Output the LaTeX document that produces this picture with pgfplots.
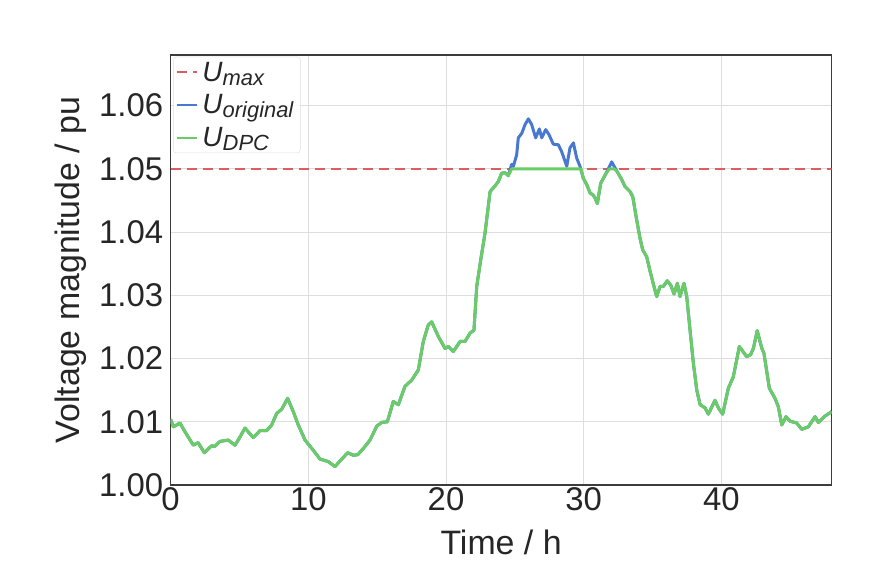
\documentclass[border=0pt]{standalone}
\usepackage{pgfplots}
\pgfplotsset{compat=1.18}
\usepackage{fontspec}
\setmainfont{Liberation Sans}

\definecolor{cRed}{HTML}{D65F5F}
\definecolor{cBlue}{HTML}{4878CF}
\definecolor{cGreen}{HTML}{6ACC65}
\definecolor{cText}{RGB}{38,38,38}
\definecolor{cGrid}{RGB}{222,222,222}

% legend symbol: italic U with a large, lowered italic subscript
\newcommand{\Usub}[1]{\textit{U}\raisebox{-4bp}{\fontsize{22}{24}\selectfont\itshape #1}}

\begin{document}
\begin{tikzpicture}
\useasboundingbox (-170.6bp,-93bp) rectangle (709.4bp,485bp);
\begin{axis}[
  scale only axis,
  width=661bp, height=430bp,
  xmin=0, xmax=48,
  ymin=1.00, ymax=1.068,
  xtick={0,10,20,30,40},
  ytick={1.00,1.01,1.02,1.03,1.04,1.05,1.06},
  major tick length=0pt,
  grid=major,
  major grid style={cGrid, line width=1bp},
  axis line style={cText!90, line width=1.4bp},
  tick label style={font=\fontsize{33}{38}\selectfont, text=cText},
  label style={font=\fontsize{34}{40}\selectfont, text=cText},
  /pgf/number format/assume math mode=true,
  yticklabel style={/pgf/number format/fixed, /pgf/number format/fixed zerofill,
    /pgf/number format/precision=2, xshift=-4bp},
  xticklabel style={yshift=1bp},
  xlabel={Time / h},
  ylabel={Voltage magnitude / pu},
  xlabel style={yshift=-12bp},
  ylabel style={yshift=6bp},
  legend style={at={(0.004,0.996)}, anchor=north west,
    draw=cGrid, rounded corners=3bp, fill=white, fill opacity=0.8, text opacity=1,
    font=\fontsize{28}{32}\selectfont, text=cText,
    inner sep=3bp, row sep=8bp,
    nodes={inner xsep=4bp}},
  legend cell align=left,
  legend image code/.code={\draw[#1, line width=2bp] (0bp,0bp) -- (20bp,0bp);},
]
\addplot[cRed, line width=2.6bp, dash pattern=on 10bp off 6bp] coordinates {(0,1.05) (48,1.05)};
\addlegendentry{\Usub{max}}

\addplot[cBlue, line width=3bp, line join=round] coordinates {
(0,1.0104)(0.2,1.0092)(0.68,1.0098)(1.05,1.0084)(1.65,1.0063)(2.0,1.0067)
(2.45,1.0051)(2.98,1.0062)(3.2,1.0061)(3.59,1.0069)(4.19,1.0071)(4.68,1.0063)
(5.04,1.0076)(5.4,1.0090)(6.0,1.0075)(6.49,1.0086)(6.98,1.0086)(7.34,1.0095)
(7.7,1.0113)(8.07,1.0120)(8.5,1.0137)(8.91,1.0116)(9.27,1.0095)(9.76,1.0071)
(10.25,1.0058)(10.85,1.0041)(11.45,1.0037)(11.94,1.0029)(12.3,1.0038)(12.86,1.0051)
(13.27,1.0047)(13.6,1.0048)(14.12,1.0061)(14.48,1.0071)(14.97,1.0093)(15.33,1.0099)
(15.74,1.0100)(16.17,1.0132)(16.54,1.0127)(17.02,1.0156)(17.51,1.0166)(17.99,1.0182)
(18.35,1.0227)(18.71,1.0253)(18.96,1.0258)(19.44,1.0235)(19.93,1.0216)(20.17,1.0219)
(20.53,1.0211)(21.02,1.0227)(21.38,1.0227)(21.74,1.0240)(22.03,1.0245)(22.23,1.0314)
(22.52,1.0356)(22.83,1.0398)(23.2,1.0464)(23.56,1.0473)(23.8,1.0480)(24.04,1.0493)
(24.28,1.0494)(24.52,1.0489)(24.77,1.0507)(24.89,1.0504)(25.13,1.0522)(25.25,1.0549)
(25.5,1.0556)(25.74,1.0570)(25.98,1.0579)(26.22,1.0570)(26.51,1.0549)(26.78,1.0563)
(26.95,1.0549)(27.24,1.0562)(27.48,1.0554)(27.79,1.0539)(28.16,1.0538)(28.40,1.0527)
(28.77,1.0504)(29.0,1.0533)(29.25,1.0541)(29.49,1.0517)(29.73,1.0504)(29.97,1.0485)
(30.22,1.0475)(30.46,1.0462)(30.7,1.0458)(30.82,1.0454)(30.99,1.0445)(31.23,1.0477)
(31.55,1.0490)(31.86,1.0503)(32.03,1.0511)(32.39,1.0497)(32.76,1.0483)(33.0,1.0472)
(33.36,1.0464)(33.56,1.0456)(33.8,1.0425)(34.09,1.0390)(34.28,1.0372)(34.57,1.0361)
(34.82,1.0338)(35.1,1.0314)(35.3,1.0298)(35.54,1.0314)(35.78,1.0314)(36.07,1.0323)
(36.32,1.0316)(36.56,1.0302)(36.8,1.0319)(36.99,1.0298)(37.28,1.0319)(37.48,1.0298)
(37.72,1.0245)(37.96,1.0193)(38.21,1.0150)(38.45,1.0127)(38.81,1.0122)(39.05,1.0112)
(39.53,1.0134)(39.8,1.0121)(40.09,1.0112)(40.5,1.0153)(40.86,1.0171)(41.3,1.0219)
(41.83,1.0203)(42.12,1.0206)(42.32,1.0216)(42.6,1.0244)(42.92,1.0217)(43.09,1.0208)
(43.48,1.0153)(43.89,1.0137)(44.13,1.0124)(44.38,1.0095)(44.69,1.0108)(44.98,1.0101)
(45.47,1.0098)(45.83,1.0088)(46.31,1.0092)(46.8,1.0108)(47.04,1.0099)(47.52,1.0109)
(48.0,1.0116)
};
\addlegendentry{\Usub{original}}

\addplot[cGreen, line width=3bp, line join=round] coordinates {
(0,1.0104)(0.2,1.0092)(0.68,1.0098)(1.05,1.0084)(1.65,1.0063)(2.0,1.0067)
(2.45,1.0051)(2.98,1.0062)(3.2,1.0061)(3.59,1.0069)(4.19,1.0071)(4.68,1.0063)
(5.04,1.0076)(5.4,1.0090)(6.0,1.0075)(6.49,1.0086)(6.98,1.0086)(7.34,1.0095)
(7.7,1.0113)(8.07,1.0120)(8.5,1.0137)(8.91,1.0116)(9.27,1.0095)(9.76,1.0071)
(10.25,1.0058)(10.85,1.0041)(11.45,1.0037)(11.94,1.0029)(12.3,1.0038)(12.86,1.0051)
(13.27,1.0047)(13.6,1.0048)(14.12,1.0061)(14.48,1.0071)(14.97,1.0093)(15.33,1.0099)
(15.74,1.0100)(16.17,1.0132)(16.54,1.0127)(17.02,1.0156)(17.51,1.0166)(17.99,1.0182)
(18.35,1.0227)(18.71,1.0253)(18.96,1.0258)(19.44,1.0235)(19.93,1.0216)(20.17,1.0219)
(20.53,1.0211)(21.02,1.0227)(21.38,1.0227)(21.74,1.0240)(22.03,1.0245)(22.23,1.0314)
(22.52,1.0356)(22.83,1.0398)(23.2,1.0464)(23.56,1.0473)(23.8,1.0480)(24.04,1.0493)
(24.28,1.0494)(24.52,1.0489)(24.77,1.0500)(27.0,1.0500)(29.8,1.0500)(29.97,1.0485)
(30.22,1.0475)(30.46,1.0462)(30.7,1.0458)(30.82,1.0454)(30.99,1.0445)(31.23,1.0477)
(31.55,1.0490)(31.86,1.0500)(32.2,1.0500)(32.39,1.0497)(32.76,1.0483)(33.0,1.0472)
(33.36,1.0464)(33.56,1.0456)(33.8,1.0425)(34.09,1.0390)(34.28,1.0372)(34.57,1.0361)
(34.82,1.0338)(35.1,1.0314)(35.3,1.0298)(35.54,1.0314)(35.78,1.0314)(36.07,1.0323)
(36.32,1.0316)(36.56,1.0302)(36.8,1.0319)(36.99,1.0298)(37.28,1.0319)(37.48,1.0298)
(37.72,1.0245)(37.96,1.0193)(38.21,1.0150)(38.45,1.0127)(38.81,1.0122)(39.05,1.0112)
(39.53,1.0134)(39.8,1.0121)(40.09,1.0112)(40.5,1.0153)(40.86,1.0171)(41.3,1.0219)
(41.83,1.0203)(42.12,1.0206)(42.32,1.0216)(42.6,1.0244)(42.92,1.0217)(43.09,1.0208)
(43.48,1.0153)(43.89,1.0137)(44.13,1.0124)(44.38,1.0095)(44.69,1.0108)(44.98,1.0101)
(45.47,1.0098)(45.83,1.0088)(46.31,1.0092)(46.8,1.0108)(47.04,1.0099)(47.52,1.0109)
(48.0,1.0116)
};
\addlegendentry{\Usub{DPC}}
\end{axis}
\end{tikzpicture}
\end{document}
